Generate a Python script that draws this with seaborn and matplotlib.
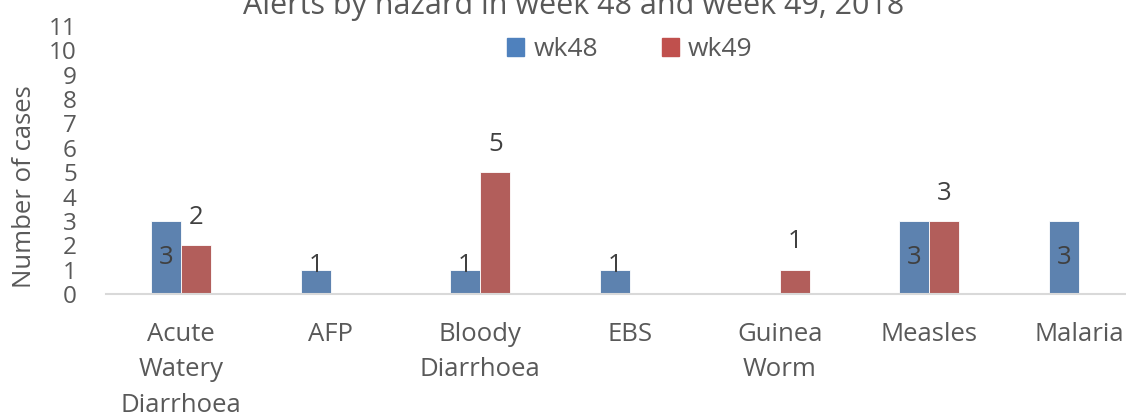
import matplotlib
matplotlib.use("Agg")
import matplotlib.pyplot as plt
import seaborn as sns
import pandas as pd

# data
hazards = ["Acute\nWatery\nDiarrhoea", "AFP", "Bloody\nDiarrhoea", "EBS",
           "Guinea\nWorm", "Measles", "Malaria"]
wk48 = [3, 1, 1, 1, 0, 3, 3]
wk49 = [2, 0, 5, 0, 1, 3, 0]
weeks = ["wk48", "wk49"]
colors = ["#4F81BD", "#C0504D"]
title = "Alerts by hazard in week 48 and week 49, 2018"

df = pd.DataFrame({
    "Hazard": hazards * 2,
    "Week": ["wk48"] * len(hazards) + ["wk49"] * len(hazards),
    "Cases": wk48 + wk49,
})

sns.set_theme(style="white")
plt.rcParams["font.family"] = ["Open Sans", "DejaVu Sans"]
txt = "#595959"

fig = plt.figure(figsize=(11.26, 4.16), dpi=100)
ax = fig.add_axes([106 / 1126, 122 / 416, 1048 / 1126, 268 / 416])

sns.barplot(data=df, x="Hazard", y="Cases", hue="Week", order=hazards,
            hue_order=weeks, palette=colors, width=0.4, ax=ax,
            edgecolor="white", linewidth=0.6, legend=False)

ax.set_xlim(-0.5, 6.5)
ax.set_ylim(0, 11)
ax.set_yticks(range(0, 12))
ax.tick_params(axis="y", labelsize=17.5, colors=txt, length=0, pad=21)
ax.tick_params(axis="x", labelsize=18.5, colors=txt, length=0, pad=20)
for lab in ax.get_xticklabels():
    lab.set_linespacing(1.55)
ax.set_xlabel("")
ax.set_ylabel("Number of cases", fontsize=18.5, color=txt)
ax.yaxis.set_label_coords(-0.066, 0.40)

for s in ["top", "right", "left"]:
    ax.spines[s].set_visible(False)
ax.spines["bottom"].set_color("#D9D9D9")
ax.spines["bottom"].set_linewidth(1.5)

# data labels: wk48 inside the bar, wk49 above the bar
for bar in ax.containers[0]:
    h = bar.get_height()
    if h > 0:
        ax.text(bar.get_x() + bar.get_width() / 2, max(h / 2, 1.15), f"{h:g}",
                ha="center", va="center", fontsize=18.5, color="#404040")
for bar in ax.containers[1]:
    h = bar.get_height()
    if h > 0:
        ax.annotate(f"{h:g}", (bar.get_x() + bar.get_width() / 2, h),
                    xytext=(0, 20), textcoords="offset points",
                    ha="center", va="center", fontsize=18.5, color="#404040")

handles = [plt.Rectangle((0, 0), 1, 1, color=c) for c in colors]
fig.legend(handles, weeks, loc="center", bbox_to_anchor=(630 / 1126, 1 - 50 / 416),
           ncol=2, frameon=False, fontsize=19, labelcolor=txt,
           handlelength=0.65, handleheight=0.65, handletextpad=0.35,
           columnspacing=2.4)

fig.text(574 / 1126, 1 - 14 / 416, title, ha="center", va="baseline",
         fontsize=22, color=txt)

fig.savefig("out.png", dpi=100)
